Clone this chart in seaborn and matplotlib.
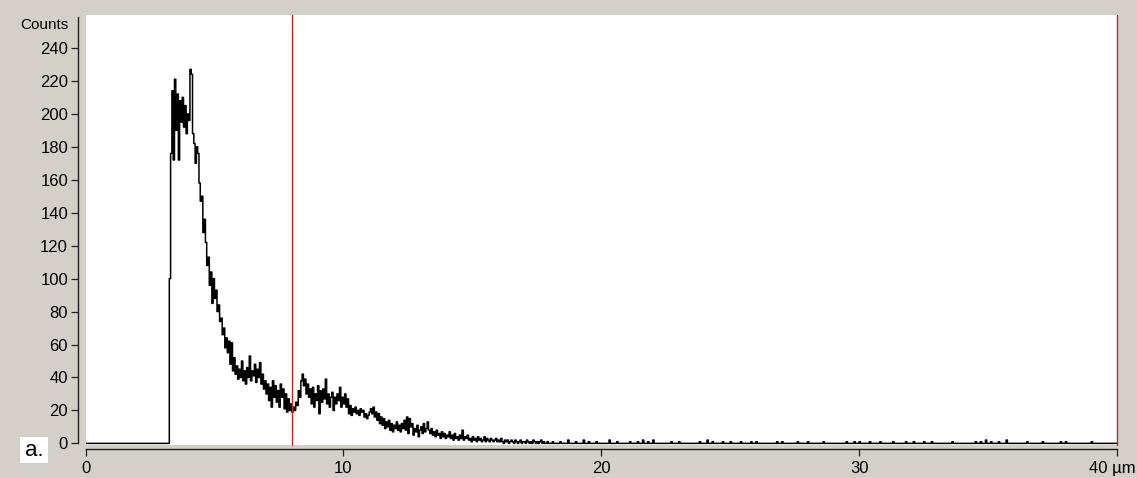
import numpy as np
import pandas as pd
import matplotlib
matplotlib.use("Agg")
import matplotlib.pyplot as plt
from matplotlib.patches import Rectangle
from matplotlib.transforms import ScaledTranslation
import seaborn as sns

# ---------------- data ----------------
BIN_WIDTH = 0.05          # µm per histogram channel
START_UM = 3.25           # first non-empty channel
# counts per channel from 3.25 µm to 17.95 µm
counts_head = [100, 176, 214, 172, 221, 190, 212, 172, 208, 195, 210, 192, 205, 188, 200]
counts_4 = [196, 227, 224, 188, 182, 170, 180, 176, 158, 147, 150, 128, 136, 122, 108, 113, 96, 104, 85, 100]
counts_5 = [88, 93, 80, 84, 74, 76, 66, 70, 58, 64, 55, 62, 48, 61, 44, 52, 42, 47, 39, 45]
counts_6 = [40, 50, 38, 44, 36, 46, 40, 53, 38, 44, 41, 48, 37, 45, 40, 49, 36, 42, 33, 38]
counts_7 = [30, 36, 26, 34, 22, 38, 28, 35, 25, 32, 22, 36, 28, 33, 21, 30, 19, 27, 20, 24]
counts_8 = [19, 22, 20, 25, 23, 32, 28, 38, 42, 35, 39, 30, 36, 28, 33, 24, 34, 22, 30, 26]
counts_9 = [35, 18, 32, 25, 33, 27, 39, 24, 30, 22, 28, 31, 20, 28, 24, 30, 26, 34, 22, 28]
counts_10 = [24, 30, 22, 27, 18, 23, 17, 21, 19, 22, 18, 20, 17, 21, 19, 20, 16, 18, 15, 17]
counts_11 = [19, 21, 18, 22, 16, 19, 14, 18, 12, 16, 11, 15, 9, 13, 10, 14, 8, 12, 7, 11]
counts_12 = [9, 13, 8, 11, 7, 12, 9, 14, 8, 16, 6, 15, 10, 12, 5, 9, 7, 11, 4, 8]
counts_13 = [10, 6, 12, 7, 9, 13, 8, 6, 9, 5, 7, 4, 8, 5, 6, 3, 7, 4, 6, 3]
counts_14 = [5, 4, 7, 3, 5, 2, 6, 3, 4, 2, 5, 3, 8, 2, 4, 3, 5, 2, 3, 1]
counts_15 = [4, 2, 3, 1, 4, 2, 3, 1, 2, 4, 1, 3, 2, 1, 3, 2, 1, 2, 3, 1]
counts_16 = [2, 1, 3, 1, 0, 2, 1, 2, 0, 1, 2, 1, 0, 2, 1, 0, 1, 2, 0, 1]
counts_17 = [1, 0, 2, 1, 0, 1, 0, 2, 1, 0, 1, 0, 1, 2, 0, 1, 0, 0, 1, 0]

# sparse tail (18 µm – 40 µm): mostly empty channels, a few single counts
TAIL_START_UM = 18.0
tail_bump_um = [18.1, 18.4, 18.7, 19.0, 19.3, 19.5, 19.8, 20.3, 20.6, 21.1, 21.4, 21.6,
                21.8, 22.0, 22.7, 23.0, 23.8, 24.1, 24.3, 24.7, 25.0, 25.4, 25.8, 26.0,
                26.8, 27.0, 27.6, 28.0, 28.6, 29.5, 29.8, 30.0, 30.4, 30.8, 31.3, 31.8,
                32.1, 32.5, 32.8, 33.6, 34.5, 34.7, 34.9, 35.1, 35.4, 35.7, 36.5, 37.1,
                37.8, 38.0, 39.0]
tail_bump_counts = [1, 1, 2, 1, 2, 1, 1, 2, 1, 1, 1, 2,
                    1, 2, 1, 1, 1, 2, 1, 1, 1, 1, 1, 1,
                    1, 1, 1, 1, 1, 1, 1, 1, 1, 1, 1, 1,
                    1, 1, 1, 1, 1, 1, 2, 1, 1, 2, 1, 1,
                    1, 1, 1]

X_MAX = 40
y_ticks = list(range(0, 241, 20))
x_ticks = [0, 10, 20, 30, 40]
x_tick_labels = ["0", "10", "20", "30", "40 µm"]
marker_lines_um = [8, 40]

# ---------------- assemble ----------------
head = (counts_head + counts_4 + counts_5 + counts_6 + counts_7 + counts_8 + counts_9 +
        counts_10 + counts_11 + counts_12 + counts_13 + counts_14 + counts_15 +
        counts_16 + counts_17)
n_tail = int(round((X_MAX - TAIL_START_UM) / BIN_WIDTH))
tail = np.zeros(n_tail)
for u, c in zip(tail_bump_um, tail_bump_counts):
    tail[int(round((u - TAIL_START_UM) / BIN_WIDTH))] = c
vals = np.concatenate([np.array(head, float), tail])
xs = START_UM + np.arange(len(vals)) * BIN_WIDTH
xs = np.concatenate([[0.0], xs, [X_MAX]])
vals = np.concatenate([[0.0], vals, [vals[-1]]])
df = pd.DataFrame({"um": xs, "counts": vals})

# ---------------- plot ----------------
sns.set_theme(style="white")
plt.rcParams["font.family"] = ["Liberation Sans", "DejaVu Sans"]

BG = "#D4D0C8"
RED = "#C42A30"
fig = plt.figure(figsize=(11.37, 4.78), dpi=100, facecolor=BG)
ax = fig.add_axes([0.0752, 0.0690, 0.9072, 0.8996])
ax.set_facecolor("white")

sns.lineplot(data=df, x="um", y="counts", ax=ax, color="black", lw=1.1,
             drawstyle="steps-post", estimator=None, sort=True)

for xv in marker_lines_um:
    ax.axvline(xv, color=RED, lw=1.0, clip_on=False, zorder=3)

ax.set_xlim(0, X_MAX)
ax.set_ylim(-1, 260)
ax.set_xlabel("")
ax.set_ylabel("")

for s in ("top", "right"):
    ax.spines[s].set_visible(False)
ax.spines["left"].set_position(("outward", 5.4))
ax.spines["bottom"].set_position(("outward", 3.2))
ax.spines["left"].set_bounds(0, 258.5)
ax.spines["bottom"].set_bounds(0, 40)
for s in ("left", "bottom"):
    ax.spines[s].set_color("#202020")
    ax.spines[s].set_linewidth(1.0)

ax.set_yticks(y_ticks)
ax.set_yticklabels([str(v) for v in y_ticks])
ax.set_xticks(x_ticks)
ax.set_xticklabels(x_tick_labels)
ax.tick_params(axis="both", direction="out", length=5, width=0.9, color="#202020",
               labelsize=12, labelcolor="black")
ax.tick_params(axis="y", pad=2.2, left=True)
ax.tick_params(axis="x", pad=3.5, bottom=True)
ax.grid(False)

# last x label "40 µm" sits with its right end at the picture edge
last = ax.get_xticklabels()[-1]
last.set_horizontalalignment("right")
last.set_transform(last.get_transform() + ScaledTranslation(19 / 100, 0, fig.dpi_scale_trans))

fig.text(20 / 1137, 1 - 25 / 478, "Counts", ha="left", va="center", fontsize=11, color="black")
fig.patches.append(Rectangle((20 / 1137, 1 - 463 / 478), 28 / 1137, 26 / 478,
                             transform=fig.transFigure, facecolor="white", edgecolor="none"))
fig.text(34 / 1137, 1 - 451 / 478, "a.", ha="center", va="center", fontsize=16, color="black")

fig.savefig("out.png", dpi=100, facecolor=BG)
